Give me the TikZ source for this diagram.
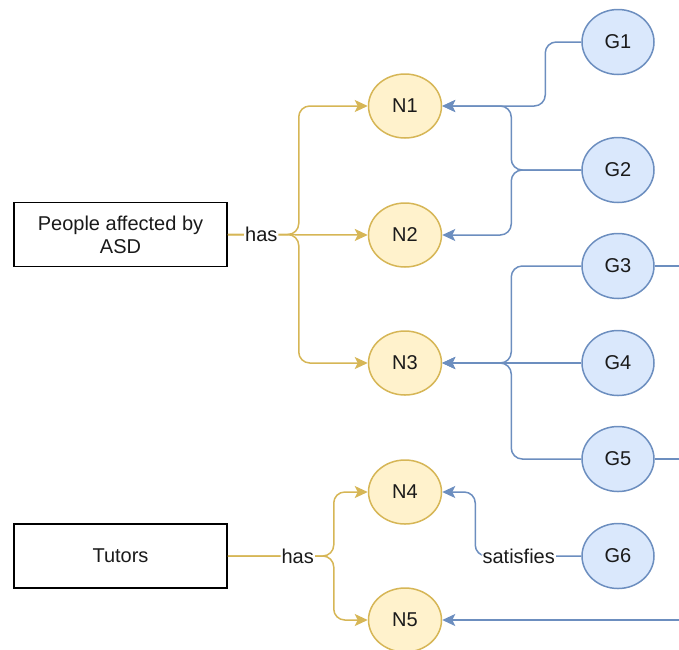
\documentclass[tikz,border=0pt]{standalone}
\usepackage{fontspec}
\setmainfont{Liberation Sans}
\usetikzlibrary{arrows.meta,shapes.geometric}
\definecolor{yfill}{HTML}{FFF2CC}
\definecolor{ydraw}{HTML}{D6B656}
\definecolor{bfill}{HTML}{DAE8FC}
\definecolor{bdraw}{HTML}{6C8EBF}
\definecolor{txt}{HTML}{1A1A1A}
\begin{document}
\begin{tikzpicture}[x=1pt,y=-1pt,
  font=\fontsize{20}{23}\selectfont, text=txt,
  box/.style={draw=black,line width=1.5pt,minimum width=213pt,minimum height=64pt,align=center,inner sep=0pt},
  nnode/.style={ellipse,draw=ydraw,fill=yfill,line width=1.5pt,minimum width=73pt,minimum height=64pt,inner sep=0pt},
  gnode/.style={ellipse,draw=bdraw,fill=bfill,line width=1.5pt,minimum width=72pt,minimum height=65pt,inner sep=0pt},
  yedge/.style={draw=ydraw,line width=1.5pt,rounded corners=11pt,-{Stealth[length=13pt,width=12pt,inset=3pt]}},
  bedge/.style={draw=bdraw,line width=1.5pt,rounded corners=11pt,-{Stealth[length=13pt,width=12pt,inset=3pt]}},
  bline/.style={draw=bdraw,line width=1.5pt},
  lab/.style={fill=white,inner sep=1pt}
]
\useasboundingbox (0,0) rectangle (679,649);

\node[box] (b1) at (120.5,234.5) {People affected by\\ASD};
\node[box] (b2) at (120.5,556) {Tutors};

\node[nnode] (N1) at (405,106) {N1};
\node[nnode] (N2) at (405,235) {N2};
\node[nnode] (N3) at (405,363) {N3};
\node[nnode] (N4) at (405,492) {N4};
\node[nnode] (N5) at (405,620) {N5};

\node[gnode] (G1) at (618,42) {G1};
\node[gnode] (G2) at (618,170) {G2};
\node[gnode] (G3) at (618,266) {G3};
\node[gnode] (G4) at (618,363) {G4};
\node[gnode] (G5) at (618,459) {G5};
\node[gnode] (G6) at (618,556) {G6};

\coordinate (r3) at (682,266);
\coordinate (r5) at (682,459);
\coordinate (r6) at (682,620);

% yellow edges
\draw[yedge] (b1.east) -- ++(71,0) |- (N1.west);
\draw[yedge] (b1.east) -- ++(71,0) |- (N3.west);
\draw[yedge] (b1.east) -- node[lab,pos=0.24]{has} (N2.west);

\draw[yedge] (b2.east) -- ++(106,0) |- (N4.west);
\draw[yedge] (b2.east) -- node[lab,pos=0.66]{has} ++(106,0) |- (N5.west);

% blue edges
\draw[bedge] (G1.west) -- ++(-36,0) |- (N1.east);
\draw[bedge] (G2.west) -- ++(-70,0) |- (N1.east);
\draw[bedge] (G2.west) -- ++(-70,0) |- (N2.east);
\draw[bedge] (G3.west) -- ++(-70,0) |- (N3.east);
\draw[bedge] (G4.west) -- (N3.east);
\draw[bedge] (G5.west) -- ++(-70,0) |- (N3.east);
\draw[bedge] (G6.west) -- node[lab,pos=0.59]{satisfies} ++(-106,0) |- (N4.east);

\draw[bline] (G3.east) -- (r3);
\draw[bline] (G5.east) -- (r5);
\draw[bedge] (r6) -- (N5.east);
\end{tikzpicture}
\end{document}
